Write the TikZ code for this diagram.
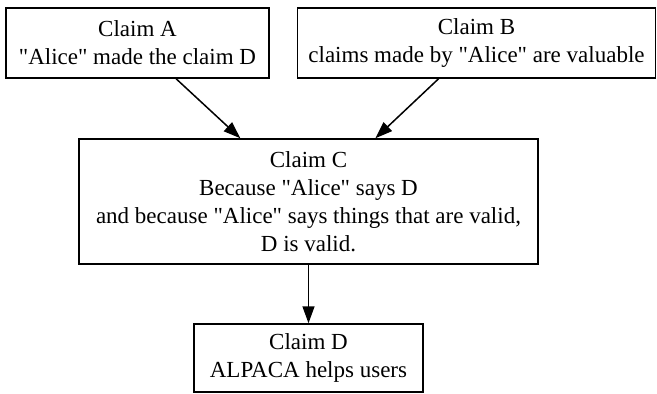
\documentclass[tikz,border=0pt]{standalone}
\usepackage{fontspec}
\setmainfont{Liberation Serif}[Ligatures=NoCommon]
\newfontfamily\tnr{Liberation Serif}
\newcommand{\qq}{\symbol{34}}
\usetikzlibrary{arrows.meta}
\begin{document}
\begin{tikzpicture}[x=1pt,y=-1pt,
  claim/.style={draw, line width=1.5pt, rectangle, align=center, inner sep=0pt,
    font=\tnr\fontsize{23}{28}\selectfont},
  link/.style={line width=1.5pt, -{Triangle[length=17pt,width=12pt]}}]
\useasboundingbox (0,0) rectangle (657,394);
\node[claim, minimum width=263pt, minimum height=70pt] (A) at (137.5,43) {Claim A\\\qq Alice\qq{} made the claim D};
\node[claim, minimum width=358pt, minimum height=70pt] (B) at (476.5,43) {Claim B\\claims made by \qq Alice\qq{} are valuable};
\node[claim, minimum width=459pt, minimum height=125pt] (C) at (308.5,201.5) {Claim C\\Because \qq Alice\qq{} says D\\and because \qq Alice\qq{} says things that are valid,\\D is valid.};
\node[claim, minimum width=229pt, minimum height=68pt] (D) at (308.5,358) {Claim D\\ALPACA helps users};
\draw[link] (A) -- (C);
\draw[link] (B) -- (C);
\draw[link] (C) -- (D);
\end{tikzpicture}
\end{document}
